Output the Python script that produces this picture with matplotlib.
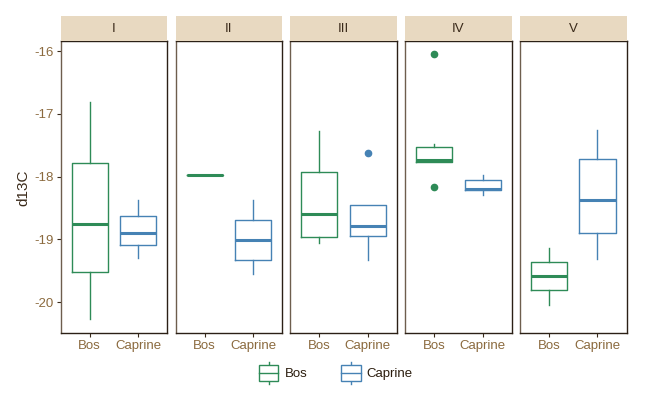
import matplotlib
matplotlib.use("Agg")
import matplotlib.pyplot as plt
from matplotlib.patches import Rectangle
from matplotlib.lines import Line2D
from matplotlib.legend_handler import HandlerBase

plt.rcParams['font.family'] = ['Liberation Sans', 'DejaVu Sans']

# ---- data ----
periods = ["I", "II", "III", "IV", "V"]
taxa = ["Bos", "Caprine"]
# per period: (whislo, q1, med, q3, whishi)
bos_stats = [
    (-20.27, -19.52, -18.76, -17.78, -16.81),
    (-17.98, -17.98, -17.98, -17.98, -17.98),
    (-19.05, -18.96, -18.60, -17.92, -17.27),
    (-17.76, -17.76, -17.74, -17.53, -17.48),
    (-20.04, -19.81, -19.59, -19.36, -19.14),
]
caprine_stats = [
    (-19.29, -19.09, -18.89, -18.63, -18.38),
    (-19.55, -19.32, -19.01, -18.69, -18.37),
    (-19.32, -18.95, -18.79, -18.45, -18.45),
    (-18.30, -18.22, -18.19, -18.06, -17.97),
    (-19.31, -18.89, -18.38, -17.72, -17.25),
]
bos_outliers = [[], [], [], [-16.05, -18.17], []]
caprine_outliers = [[], [], [-17.62], [], []]
yticks = [-16, -17, -18, -19, -20]
ytick_labels = ["-16", "-17", "-18", "-19", "-20"]

colors = {"Bos": "#2E8B57", "Caprine": "#4682B4"}
tick_col = "#8B6A3E"
dark_col = "#3a2a1a"
strip_col = "#E8D9C1"

W, H = 650, 393
fig = plt.figure(figsize=(W / 100, H / 100), dpi=100)

lefts = [60.7, 175.7, 290.3, 405.3, 520.0]
pw = 106.5
top_px, bot_px = 41.3, 333.3
strip_top = 16.0
ylim = (-20.495, -15.845)

for i, p in enumerate(periods):
    ax = fig.add_axes([lefts[i] / W, 1 - bot_px / H, pw / W, (bot_px - top_px) / H])
    for j, (taxon, stats_all, outl) in enumerate(
            [("Bos", bos_stats, bos_outliers), ("Caprine", caprine_stats, caprine_outliers)]):
        wl, q1, med, q3, wh = stats_all[i]
        st = [dict(whislo=wl, q1=q1, med=med, q3=q3, whishi=wh, fliers=outl[i])]
        c = colors[taxon]
        ax.bxp(st, positions=[j + 1], widths=0.75, showcaps=False,
               boxprops=dict(color=c, linewidth=1.0),
               whiskerprops=dict(color=c, linewidth=1.0),
               medianprops=dict(color=c, linewidth=2.2, solid_capstyle='butt'),
               flierprops=dict(marker='o', markerfacecolor=c, markeredgecolor=c,
                               markersize=4.5, linestyle='none'),
               manage_ticks=False)
    ax.set_xlim(0.4, 2.6)
    ax.set_ylim(*ylim)
    ax.set_xticks([1, 2])
    ax.set_xticklabels(taxa, color=tick_col, fontsize=9.5)
    ax.set_yticks(yticks)
    if i == 0:
        ax.set_yticklabels(ytick_labels, color=tick_col, fontsize=9.5)
        ax.set_ylabel("d13C", color=dark_col, fontsize=11, labelpad=3)
    else:
        ax.tick_params(axis='y', left=False, labelleft=False)
    ax.tick_params(axis='both', length=3, width=0.8, color=dark_col, pad=2)
    for s in ax.spines.values():
        s.set_color("#2b2016")
        s.set_linewidth(1.0)
    ax.spines['left'].set_color("#6e5e4e")
    # strip
    sax = fig.add_axes([lefts[i] / W, 1 - top_px / H, pw / W, (top_px - strip_top) / H])
    sax.set_facecolor(strip_col)
    for s in sax.spines.values():
        s.set_visible(False)
    sax.set_xticks([])
    sax.set_yticks([])
    sax.text(0.5, 0.5, p, ha='center', va='center', fontsize=9.5, color=dark_col,
             transform=sax.transAxes)


class BoxHandler(HandlerBase):
    def __init__(self, color):
        super().__init__()
        self.color = color

    def create_artists(self, legend, orig_handle, xdescent, ydescent, width, height, fontsize, trans):
        c = self.color
        bh = height * 1.0
        y0 = -ydescent + (height - bh) / 2
        rect = Rectangle((-xdescent, y0), width, bh, facecolor='white', edgecolor=c,
                         linewidth=1.0, transform=trans)
        cx = -xdescent + width / 2
        wt = Line2D([cx, cx], [y0 + bh, y0 + bh + height * 0.2], color=c, lw=1.0, transform=trans)
        wb = Line2D([cx, cx], [y0, y0 - height * 0.2], color=c, lw=1.0, transform=trans)
        md = Line2D([-xdescent, -xdescent + width], [y0 + bh / 2] * 2, color=c, lw=1.0, transform=trans)
        return [wt, wb, rect, md]


h_bos = Rectangle((0, 0), 1, 1)
h_cap = Rectangle((0, 0), 1, 1)
leg = fig.legend([h_bos, h_cap], taxa, loc='center', bbox_to_anchor=(336 / W, 1 - 373 / H),
                 ncol=2, frameon=False, fontsize=9.5, handlelength=1.45, handleheight=1.4,
                 handletextpad=0.45, columnspacing=2.6,
                 handler_map={h_bos: BoxHandler(colors["Bos"]), h_cap: BoxHandler(colors["Caprine"])})
for t in leg.get_texts():
    t.set_color("#2b1d0e")

fig.savefig("out.png", dpi=100)
